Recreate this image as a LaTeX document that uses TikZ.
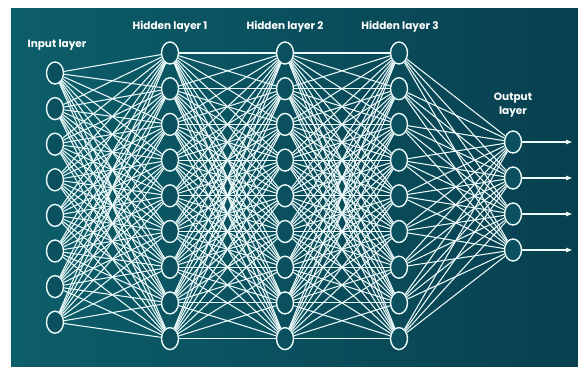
\documentclass[tikz,border=0pt]{standalone}
\usepackage{fontspec}
\setmainfont{Poppins}
\usetikzlibrary{shapes.geometric,arrows.meta}
\pgfdeclarelayer{back}
\pgfdeclarelayer{edges}
\pgfsetlayers{back,edges,main}
\definecolor{tealL}{RGB}{12,94,106}
\definecolor{tealR}{RGB}{8,64,80}
\definecolor{nodefill}{RGB}{10,80,94}
\definecolor{wire}{RGB}{236,250,250}
\begin{document}
\begin{tikzpicture}[x=1pt,y=-1pt,
  neuron/.style={ellipse, draw=wire, line width=1.4pt, fill=nodefill,
    minimum width=17pt, minimum height=22pt, inner sep=0pt},
  link/.style={draw=wire, line width=1.05pt},
  outarrow/.style={draw=wire, line width=1.1pt, -{Triangle[length=6pt,width=4.5pt]}},
  caption/.style={text=white, font=\bfseries\fontsize{10.5}{14}\selectfont, align=center}]
\useasboundingbox (0,0) rectangle (578,367);
\begin{pgfonlayer}{back}
  \fill[white] (0,0) rectangle (578,367);
  \shade[left color=tealL, right color=tealR] (11,8) rectangle (578,366);
\end{pgfonlayer}

% neurons of each layer
\foreach \i in {1,...,8}
  \node[neuron] (in\i) at (55,{73+(\i-1)*35.6}) {};
\foreach \i in {1,...,9} {
  \node[neuron] (ha\i) at (170,{53+(\i-1)*35.7}) {};
  \node[neuron] (hb\i) at (285,{53+(\i-1)*35.7}) {};
  \node[neuron] (hc\i) at (399,{53+(\i-1)*35.7}) {};
}
\foreach \i in {1,...,4}
  \node[neuron] (out\i) at (513,{142+(\i-1)*36}) {};

% fully connected links between neighbouring layers
\begin{pgfonlayer}{edges}
  \foreach \i in {1,...,8}
    \foreach \j in {1,...,9}
      \draw[link] (in\i) -- (ha\j);
  \foreach \i in {1,...,9}
    \foreach \j in {1,...,9} {
      \draw[link] (ha\i) -- (hb\j);
      \draw[link] (hb\i) -- (hc\j);
    }
  \foreach \i in {1,...,9}
    \foreach \j in {1,...,4}
      \draw[link] (hc\i) -- (out\j);
\end{pgfonlayer}

% output arrows
\foreach \i in {1,...,4} {
  \coordinate (end\i) at (572,{142+(\i-1)*36});
  \draw[outarrow] (out\i) -- (end\i);
}

% layer captions
\node[caption] (capin) at (57,45) {Input layer};
\node[caption] (capa) at (170,27) {Hidden layer 1};
\node[caption] (capb) at (285,27) {Hidden layer 2};
\node[caption] (capc) at (400,27) {Hidden layer 3};
\node[caption] (capout) at (513,105) {Output\\layer};
\end{tikzpicture}
\end{document}
